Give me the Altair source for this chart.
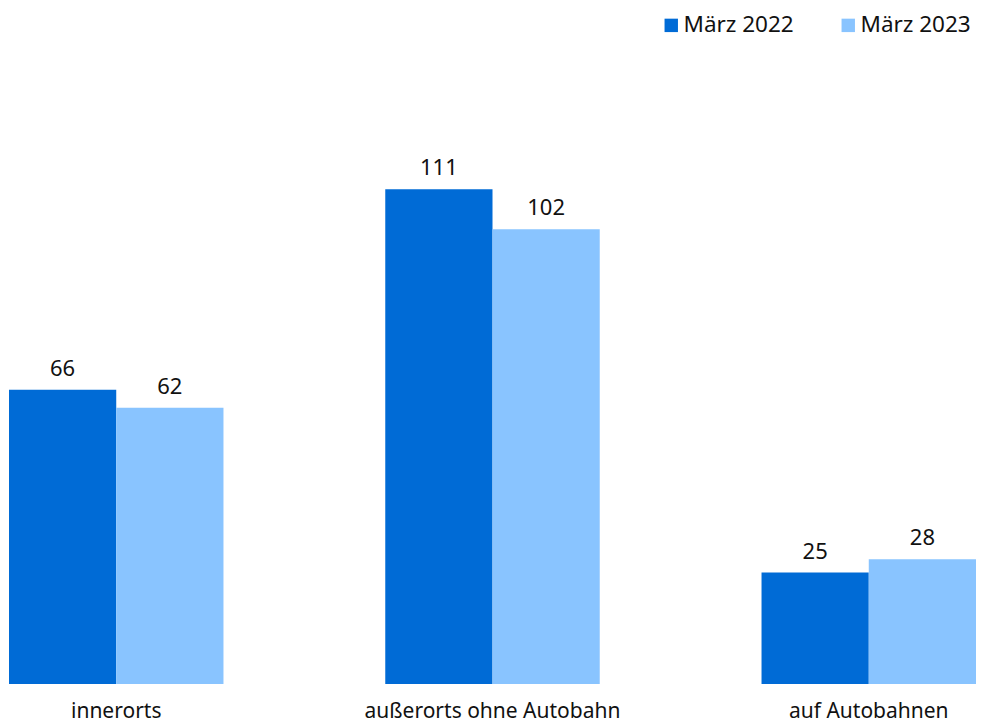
import altair as alt
import pandas as pd

categories = ["innerorts", "außerorts ohne Autobahn", "auf Autobahnen"]
series = ["März 2022", "März 2023"]
values_2022 = [66, 111, 25]
values_2023 = [62, 102, 28]
colors = ["#006BD6", "#89C4FF"]

rows = []
for c, a, b in zip(categories, values_2022, values_2023):
    rows.append({"Kategorie": c, "Zeitraum": series[0], "Wert": a})
    rows.append({"Kategorie": c, "Zeitraum": series[1], "Wert": b})
df = pd.DataFrame(rows)

FONT = "Noto Sans"

x = alt.X("Kategorie:N", sort=categories, title=None,
          scale=alt.Scale(paddingInner=0.43, paddingOuter=0),
          axis=alt.Axis(labelAngle=0, domain=False, ticks=False, labelPadding=33,
                        labelBaseline="alphabetic", labelLimit=0,
                        labelFontSize=21, labelFont=FONT, labelColor="#111111"))
xo = alt.XOffset("Zeitraum:N", sort=series, scale=alt.Scale(paddingInner=0, paddingOuter=0))
y = alt.Y("Wert:Q", scale=alt.Scale(domain=[0, 140]), axis=None)

bars = alt.Chart(df).mark_bar().encode(
    x=x, xOffset=xo, y=y,
    color=alt.Color("Zeitraum:N", sort=series,
                    scale=alt.Scale(domain=series, range=colors),
                    legend=alt.Legend(title=None, orient="none", direction="horizontal",
                                      legendX=651, legendY=-46, symbolType="square",
                                      symbolSize=180, symbolStrokeWidth=0, labelOffset=1,
                                      columnPadding=43, labelFontSize=22.5, labelFont=FONT,
                                      labelColor="#111111")),
)

labels = alt.Chart(df).mark_text(baseline="alphabetic", dy=-14, fontSize=22, font=FONT,
                                 color="#111111").encode(
    x=x, xOffset=xo, y=y, text="Wert:Q"
)

chart = alt.layer(bars, labels).properties(
    width=967, height=624,
    autosize=alt.AutoSizeParams(type="none"),
    padding={"left": 1, "top": 52, "right": 0, "bottom": 40},
).configure_view(stroke=None).configure_axis(grid=False)

chart.save("out.html", embed_options={"renderer": "svg", "actions": False})
